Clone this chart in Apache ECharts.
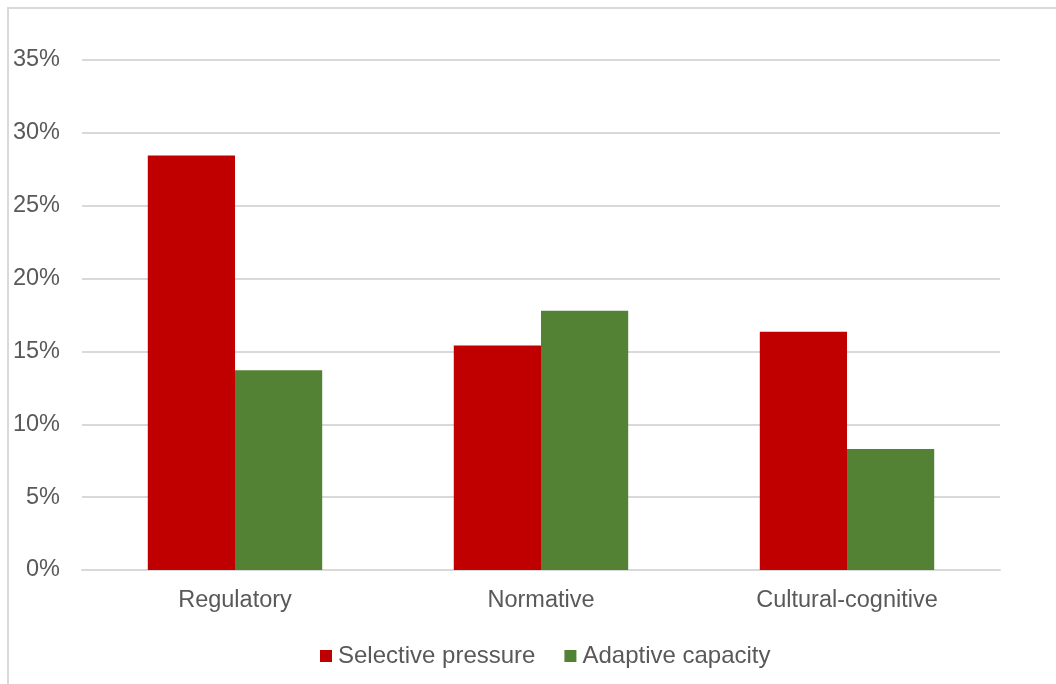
<!DOCTYPE html>
<html>
<head>
<meta charset="utf-8">
<script src="https://cdn.jsdelivr.net/npm/echarts@6/dist/echarts.min.js"></script>
<style>
  html, body { margin: 0; padding: 0; background: #fff; }
  #chart { width: 1056px; height: 684px; }
</style>
</head>
<body>
<div id="chart"></div>
<script>
// Institutional pillars on the x axis
const categories = ['Regulatory', 'Normative', 'Cultural-cognitive'];
// Share of responses, in percent
const selectivePressure = [28.45, 15.4, 16.35];
const adaptiveCapacity = [13.7, 17.8, 8.3];
const seriesNames = ['Selective pressure', 'Adaptive capacity'];

const textColor = '#595959';
const lineColor = '#d9d9d9';
const fontFamily = 'Liberation Sans, Arial, sans-serif';

const chart = echarts.init(document.getElementById('chart'));
chart.setOption({
  animation: false,
  backgroundColor: '#fff',
  graphic: [{
    type: 'rect',
    shape: { x: 8, y: 8, width: 1200, height: 1000 },
    style: { fill: 'none', stroke: lineColor, lineWidth: 2 },
    silent: true
  }],
  grid: { left: 82, right: 56, top: 60, bottom: 114, containLabel: false },
  legend: {
    data: seriesNames,
    bottom: 11,
    left: 315,
    itemWidth: 12,
    itemHeight: 12,
    itemGap: 29,
    icon: 'rect',
    textStyle: { color: textColor, fontSize: 24, fontFamily: fontFamily, padding: [0, 0, 0, 1] }
  },
  xAxis: {
    type: 'category',
    data: categories,
    axisLine: { lineStyle: { color: lineColor, width: 2 } },
    axisTick: { show: false },
    axisLabel: { color: textColor, fontSize: 23.5, fontFamily: fontFamily, margin: 19 }
  },
  yAxis: {
    type: 'value',
    min: 0,
    max: 35,
    interval: 5,
    axisLine: { show: false },
    axisTick: { show: false },
    splitLine: { lineStyle: { color: lineColor, width: 2 } },
    axisLabel: { color: textColor, fontSize: 23.5, fontFamily: fontFamily, margin: 22, formatter: '{value}%' }
  },
  series: [
    {
      name: seriesNames[0],
      type: 'bar',
      data: selectivePressure,
      itemStyle: { color: '#C00000' },
      barGap: '0%',
      barCategoryGap: '43%'
    },
    {
      name: seriesNames[1],
      type: 'bar',
      data: adaptiveCapacity,
      itemStyle: { color: '#548235' },
      barGap: '0%',
      barCategoryGap: '43%'
    }
  ]
});
</script>
</body>
</html>
